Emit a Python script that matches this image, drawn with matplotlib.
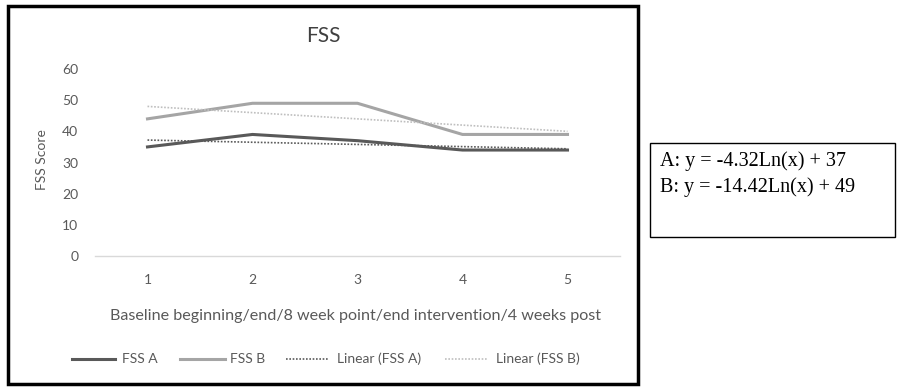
import numpy as np
import matplotlib
matplotlib.use("Agg")
import matplotlib.pyplot as plt
from matplotlib.patches import Rectangle
from matplotlib.lines import Line2D

x_points = [1, 2, 3, 4, 5]
fss_a = [35, 39, 37, 34, 34]
fss_b = [44, 49, 49, 39, 39]
yticks = [0, 10, 20, 30, 40, 50, 60]
title = "FSS"
xlabel = "Baseline beginning/end/8 week point/end intervention/4 weeks post"
ylabel = "FSS Score"
legend_labels = ["FSS A", "FSS B", "Linear (FSS A)", "Linear (FSS B)"]
equations = ["A: y = -4.32Ln(x) + 37", "B: y = -14.42Ln(x) + 49"]

W, H = 907, 389
fig = plt.figure(figsize=(W / 100, H / 100), dpi=100)
plt.rcParams['font.family'] = ['Lato', 'DejaVu Sans']

def fx(px):
    return px / W

def fy(py):
    return 1 - py / H

dark = "#595959"
light = "#A5A5A5"
txt = "#595959"

ax = fig.add_axes([fx(95), fy(256), fx(620) - fx(95), fy(69) - fy(256)])
ax.plot(x_points, fss_a, color=dark, lw=2.2, solid_joinstyle='round')
ax.plot(x_points, fss_b, color=light, lw=2.2, solid_joinstyle='round')
xa = np.array(x_points, dtype=float)
pa = np.polyfit(xa, fss_a, 1)
pb = np.polyfit(xa, fss_b, 1)
ax.plot(xa, np.polyval(pa, xa), color=dark, lw=1.2, ls=(0, (1, 1)))
ax.plot(xa, np.polyval(pb, xa), color="#BFBFBF", lw=1.2, ls=(0, (1, 1)))

ax.set_xlim(0.5, 5.5)
ax.set_ylim(0, 60)
ax.set_yticks(yticks)
ax.set_xticks(x_points)
for s in ["top", "right", "left"]:
    ax.spines[s].set_visible(False)
ax.spines["bottom"].set_color("#D9D9D9")
ax.spines["bottom"].set_linewidth(1)
ax.tick_params(axis='both', length=0, colors=txt, labelsize=10)
ax.tick_params(axis='x', pad=13)
ax.tick_params(axis='y', pad=12)

fig.text(fx(323), fy(36), title, ha='center', va='center', fontsize=15, color="#404040")
fig.text(fx(42), fy(160), ylabel, ha='center', va='center', rotation=90, fontsize=10, color=txt)
fig.text(fx(356), fy(316), xlabel, ha='center', va='center', fontsize=11.6, color=txt)

# legend
leg_items = [
    (72, 115, 122, dark, '-', 2.2),
    (180, 225, 230, light, '-', 2.2),
    (286, 328, 337, dark, (0, (1, 1)), 1.2),
    (445, 488, 496, "#BFBFBF", (0, (1, 1)), 1.2),
]
for (x0, x1, xt, c, ls, lw), lab in zip(leg_items, legend_labels):
    fig.add_artist(Line2D([fx(x0), fx(x1)], [fy(359), fy(359)], color=c, ls=ls, lw=lw,
                          transform=fig.transFigure))
    fig.text(fx(xt), fy(359), lab, ha='left', va='center', fontsize=10, color=txt)

# outer frame
fig.add_artist(Rectangle((fx(8), fy(384)), fx(638) - fx(8), fy(6) - fy(384), fill=False,
                         edgecolor='black', lw=2.5, transform=fig.transFigure))

# equation box
fig.add_artist(Rectangle((fx(650), fy(237)), fx(895) - fx(650), fy(143) - fy(237), fill=False,
                         edgecolor='black', lw=1, transform=fig.transFigure))
fig.text(fx(660), fy(161), equations[0], ha='left', va='center', fontsize=14.5,
         family=['Liberation Serif'], color='black')
fig.text(fx(660), fy(187), equations[1], ha='left', va='center', fontsize=14.5,
         family=['Liberation Serif'], color='black')

fig.savefig("out.png", dpi=100)
